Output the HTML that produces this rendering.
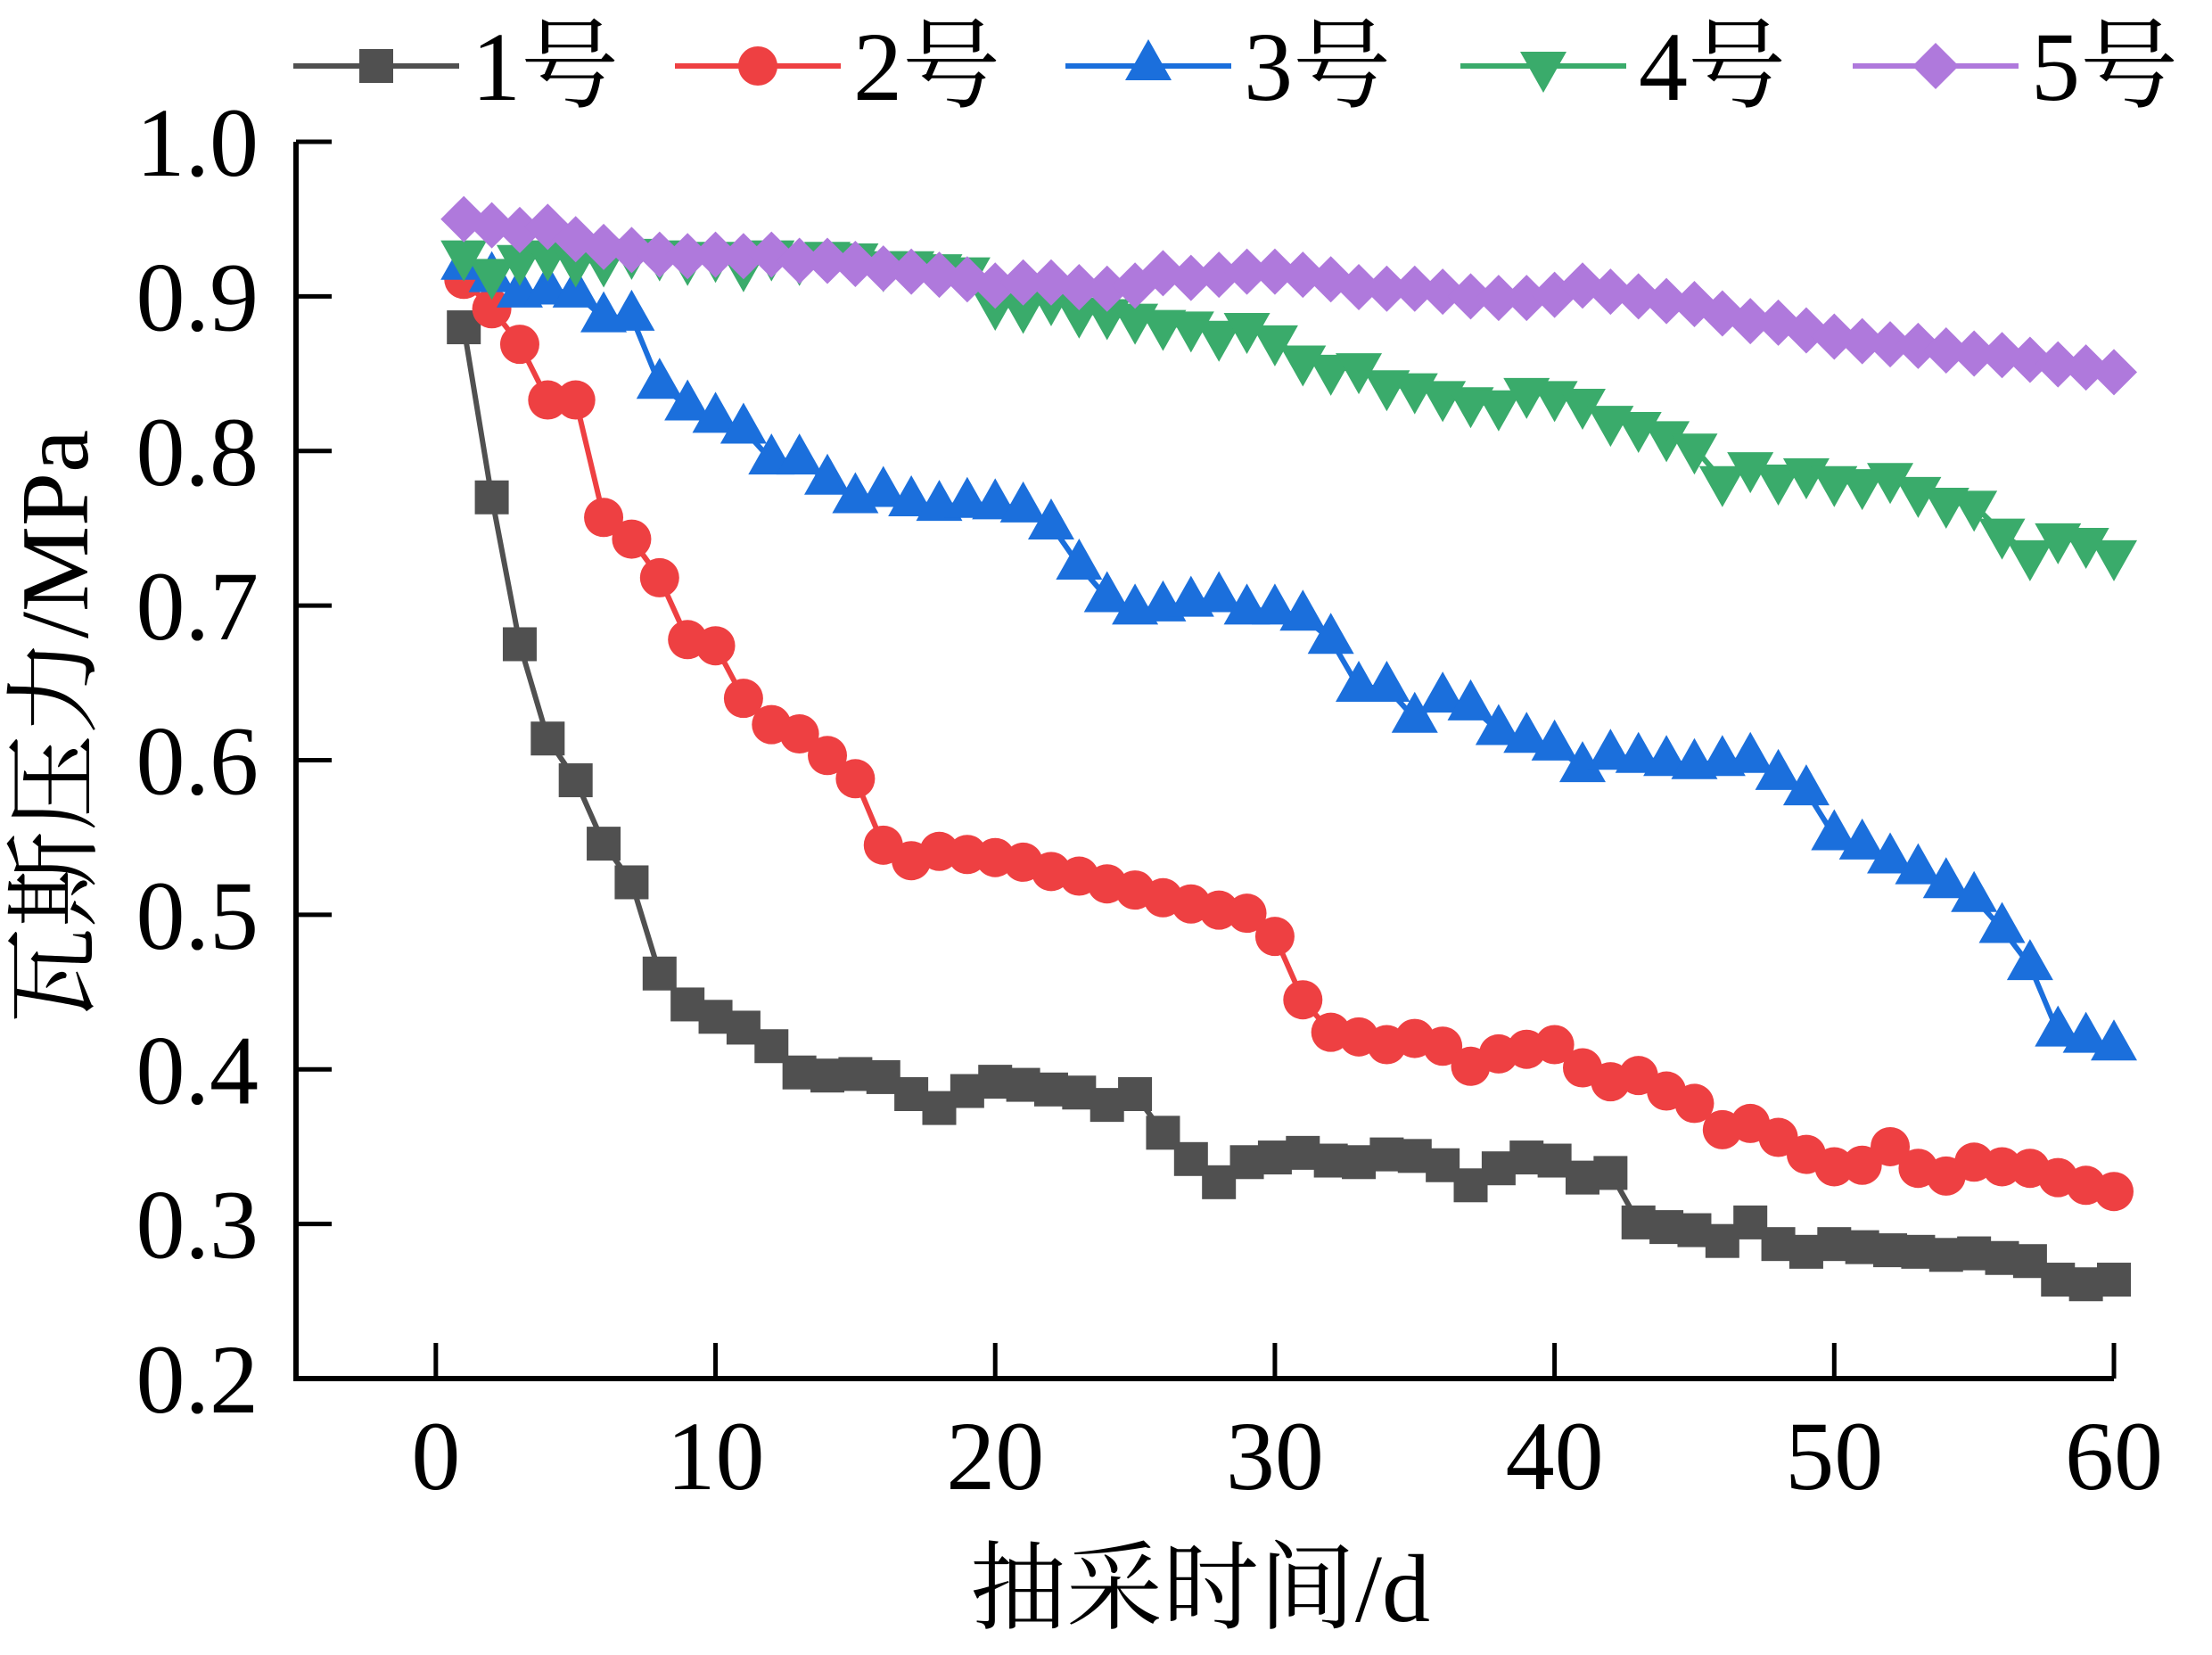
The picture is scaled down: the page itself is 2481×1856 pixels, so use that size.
<!DOCTYPE html>
<html><head><meta charset="utf-8"><style>
html,body{margin:0;padding:0;background:#fff;}
svg{display:block;}
text{font-family:"Liberation Serif","Noto Serif CJK SC","Noto Sans CJK SC",serif;fill:#000;}
</style></head><body>
<svg id="chart" width="2481" height="1856" viewBox="0 0 2481 1856" xmlns="http://www.w3.org/2000/svg">
<g id="plot"></g>
<g id="axes"></g>
<g id="legend"></g>
<text x="0" y="0" font-size="108" text-anchor="middle" transform="translate(98,815) rotate(-90)">瓦斯压力/MPa</text>
<text x="1346" y="1818" font-size="108" text-anchor="middle">抽采时间/d</text>
</svg>
<script>
const days = Array.from({length:60},(_,i)=>i+1);
const s1 = [0.88,0.77,0.675,0.614,0.587,0.546,0.521,0.462,0.442,0.434,0.427,0.415,0.398,0.396,0.397,0.395,0.384,0.375,0.386,0.392,0.39,0.387,0.385,0.377,0.384,0.359,0.342,0.327,0.34,0.343,0.346,0.341,0.34,0.345,0.344,0.338,0.325,0.336,0.343,0.341,0.33,0.333,0.301,0.298,0.296,0.289,0.301,0.287,0.282,0.287,0.285,0.283,0.282,0.28,0.281,0.278,0.276,0.264,0.261,0.264];
const s2 = [0.911,0.892,0.869,0.833,0.833,0.757,0.743,0.718,0.678,0.674,0.64,0.623,0.617,0.603,0.588,0.545,0.535,0.541,0.539,0.537,0.534,0.528,0.525,0.52,0.516,0.511,0.507,0.503,0.501,0.486,0.445,0.424,0.421,0.416,0.42,0.415,0.402,0.41,0.413,0.416,0.401,0.392,0.396,0.386,0.378,0.361,0.365,0.356,0.345,0.337,0.338,0.35,0.336,0.331,0.34,0.337,0.336,0.33,0.325,0.321];
const s3 = [0.92,0.912,0.902,0.904,0.902,0.886,0.887,0.843,0.829,0.821,0.814,0.794,0.794,0.781,0.769,0.773,0.767,0.764,0.766,0.765,0.763,0.752,0.726,0.705,0.697,0.699,0.702,0.705,0.697,0.697,0.693,0.678,0.647,0.647,0.627,0.64,0.635,0.619,0.614,0.609,0.595,0.603,0.601,0.599,0.597,0.599,0.601,0.59,0.58,0.551,0.545,0.536,0.529,0.52,0.511,0.491,0.467,0.424,0.42,0.415];
const s4 = [0.927,0.915,0.924,0.927,0.923,0.923,0.928,0.927,0.924,0.926,0.92,0.927,0.924,0.926,0.925,0.92,0.92,0.918,0.916,0.895,0.893,0.898,0.89,0.889,0.886,0.882,0.881,0.875,0.88,0.872,0.859,0.853,0.854,0.843,0.841,0.836,0.832,0.83,0.838,0.836,0.831,0.82,0.816,0.81,0.802,0.781,0.79,0.782,0.786,0.781,0.779,0.783,0.774,0.767,0.765,0.747,0.733,0.744,0.741,0.733];
const s5 = [0.95,0.946,0.943,0.945,0.937,0.932,0.93,0.927,0.926,0.927,0.926,0.927,0.923,0.923,0.921,0.918,0.916,0.914,0.911,0.907,0.909,0.909,0.906,0.905,0.907,0.915,0.912,0.914,0.916,0.916,0.914,0.911,0.906,0.905,0.905,0.903,0.9,0.899,0.899,0.901,0.907,0.903,0.9,0.897,0.895,0.889,0.884,0.883,0.878,0.874,0.871,0.869,0.868,0.865,0.863,0.862,0.859,0.856,0.854,0.851];
const xTicks = [0,10,20,30,40,50,60];
const yTicks = [0.2,0.3,0.4,0.5,0.6,0.7,0.8,0.9,1.0];
const yTickLabels = ["0.2","0.3","0.4","0.5","0.6","0.7","0.8","0.9","1.0"];
const seriesNames = ["1号","2号","3号","4号","5号"];

const NS="http://www.w3.org/2000/svg";
const X0=-5,X1=60,PX0=332,PX1=2371;
const Y0=0.2,Y1=1.0,PY0=1546,PY1=159;
function xs(v){return PX0+(v-X0)/(X1-X0)*(PX1-PX0);}
function ys(v){return PY0+(v-Y0)/(Y1-Y0)*(PY1-PY0);}
function mk(tag,attrs,parent){const e=document.createElementNS(NS,tag);for(const k in attrs)e.setAttribute(k,attrs[k]);parent.appendChild(e);return e;}

const axes=document.getElementById('axes');
const ax=mk('path',{d:`M${PX0},${PY1} L${PX0},${PY0} L${PX1},${PY0}`,fill:'none',stroke:'#000','stroke-width':6},axes);


xTicks.forEach(t=>{
  const l=mk('line',{x1:xs(t),x2:xs(t),y1:PY0,y2:PY0-40,stroke:'#000','stroke-width':5},axes);
  
  
  const tx=mk('text',{x:xs(t),y:1670,'font-size':110,'text-anchor':'middle'},axes);
  tx.textContent=String(t);
  
  
});
yTicks.forEach((t,i)=>{
  const l=mk('line',{x1:PX0,x2:PX0+40,y1:ys(t),y2:ys(t),stroke:'#000','stroke-width':5},axes);
  
  
  const tx=mk('text',{x:290,y:ys(t)+38,'font-size':110,'text-anchor':'end'},axes);
  tx.textContent=yTickLabels[i];
  
  
});

const colors=['#505050','#EE4042','#1B6FDC','#3AAB6B','#AF79DC'];
function marker(type,cx,cy,color,parent){
  let e;
  if(type===0) e=mk('rect',{x:cx-19,y:cy-19,width:38,height:38,fill:color},parent);
  else if(type===1) e=mk('circle',{cx:cx,cy:cy,r:22,fill:color},parent);
  else if(type===2) e=mk('polygon',{points:`${cx},${cy-30} ${cx-26},${cy+16} ${cx+26},${cy+16}`,fill:color},parent);
  else if(type===3) e=mk('polygon',{points:`${cx},${cy+30} ${cx-26},${cy-16} ${cx+26},${cy-16}`,fill:color},parent);
  else e=mk('polygon',{points:`${cx},${cy-26} ${cx+26},${cy} ${cx},${cy+26} ${cx-26},${cy}`,fill:color},parent);
  return e;
}
const plot=document.getElementById('plot');
[s1,s2,s3,s4,s5].forEach((s,si)=>{
  const g=mk('g',{},plot);
  
  
  const d=s.map((v,i)=>(i?'L':'M')+xs(days[i]).toFixed(1)+','+ys(v).toFixed(1)).join(' ');
  const p=mk('path',{d:d,fill:'none',stroke:colors[si],'stroke-width':6,'stroke-linejoin':'round'},g);
  
  
  s.forEach((v,i)=>{
    const m=marker(si,xs(days[i]),ys(v),colors[si],g);
    
    
  });
});

const legend=document.getElementById('legend');
const lx=[329,757,1195,1638,2078];
seriesNames.forEach((n,i)=>{
  const g=mk('g',{},legend);
  
  
  mk('line',{x1:lx[i],x2:lx[i]+186,y1:74,y2:74,stroke:colors[i],'stroke-width':6},g);
  marker(i,lx[i]+93,74,colors[i],g);
  const t=mk('text',{x:lx[i]+200,y:112,'font-size':110},g);
  t.textContent=n;
});
</script>
</body></html>
